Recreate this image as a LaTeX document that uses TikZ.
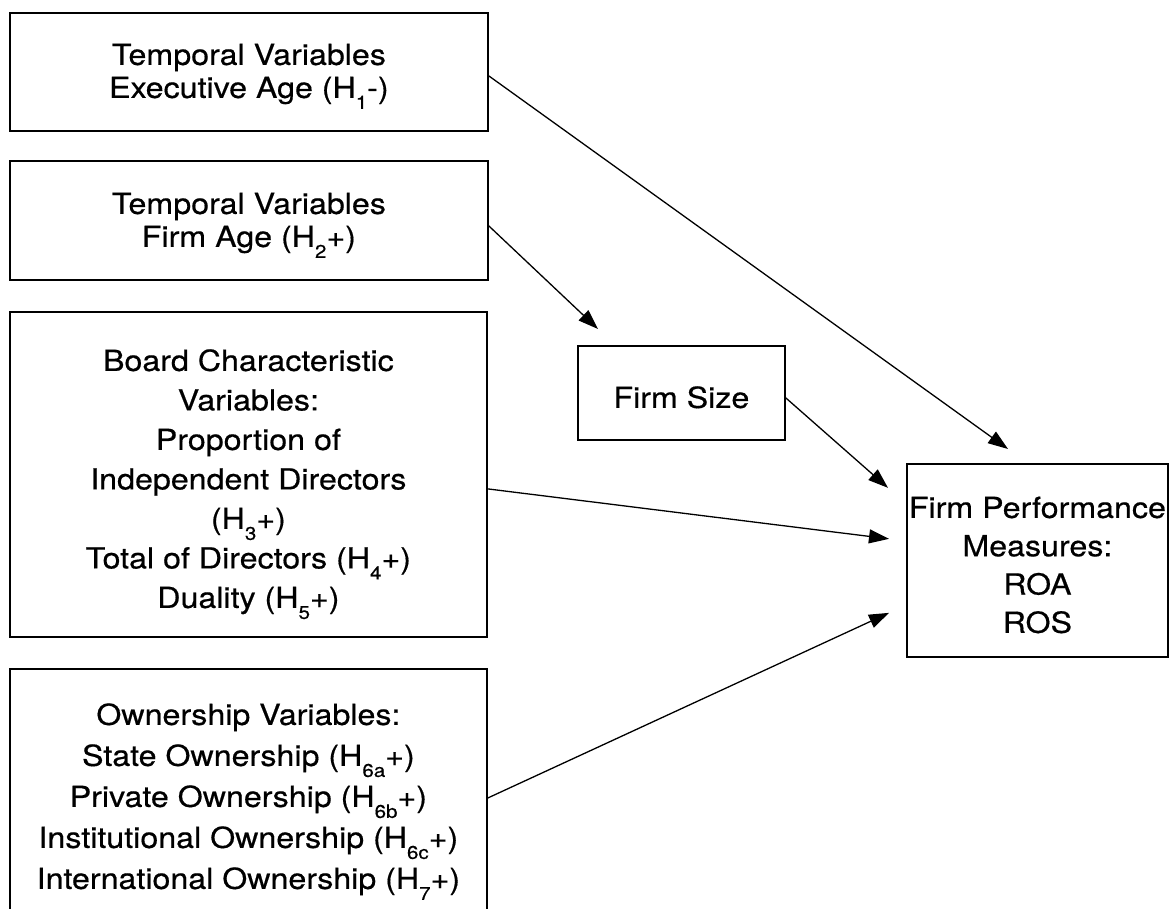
\documentclass[tikz,border=0pt]{standalone}
\usepackage{fontspec}
\setmainfont{TeX Gyre Heros}[FakeStretch=1.11,FakeBold=0.5]
\usetikzlibrary{arrows.meta}
\newcommand{\hsb}[1]{\raisebox{-11pt}{\fontsize{18.5}{18.5}\selectfont #1}}
\newcommand{\toph}[1]{\rule{0pt}{#1}}
\newcommand{\both}[1]{\rule[-#1]{0pt}{#1}}
\begin{document}
\begin{tikzpicture}[x=1pt,y=-1pt,
  box/.style={draw, line width=1.8pt, inner sep=0pt, align=center, anchor=north west},
  fnt/.style={font=\fontsize{29}{#1}\selectfont},
  arr/.style={-{Triangle[length=20pt,width=14pt]}, line width=1.3pt}]
\useasboundingbox (0,0) rectangle (1175,909);
\clip (0,0) rectangle (1175,909);
\node[box, fnt=33, minimum width=478pt] (b1) at (9,12)
  {\toph{52pt}Temporal Variables\\Executive Age (H\hsb{1}-)\both{33pt}};
\node[box, fnt=33, minimum width=478pt] (b2) at (9,160)
  {\toph{53pt}Temporal Variables\\Firm Age (H\hsb{2}+)\both{33pt}};
\node[box, fnt=39.5, minimum width=477pt] (b3) at (9,311)
  {\toph{59pt}Board Characteristic\\Variables:\\Proportion of\\Independent Directors\\(H\hsb{3}+)\\Total of Directors (H\hsb{4}+)\\Duality (H\hsb{5}+)\both{29pt}};
\node[box, fnt=41, minimum width=477pt] (b4) at (9,668)
  {\toph{56pt}Ownership Variables:\\State Ownership (H\hsb{6a}+)\\Private Ownership (H\hsb{6b}+)\\Institutional Ownership (H\hsb{6c}+)\\International Ownership (H\hsb{7}+)\both{42pt}};
\node[box, fnt=33, minimum width=207pt] (fs) at (577,345)
  {\toph{62pt}Firm Size\both{32pt}};
\node[box, fnt=38.3, minimum width=261pt] (fp) at (906,463)
  {\toph{54pt}Firm Performance\\Measures:\\ROA\\ROS\both{24pt}};
\draw[arr] ([yshift=-4pt]b1.east) -- ([xshift=102pt,yshift=14pt]fp.north west);
\draw[arr] ([yshift=-5.5pt]b2.east) -- ([xshift=21pt,yshift=16pt]fs.north west);
\draw[arr] ([yshift=-5pt]fs.east) -- ([xshift=-18pt,yshift=72.5pt]fp.west);
\draw[arr] ([yshift=-14.5pt]b3.east) -- ([xshift=-17pt,yshift=21.5pt]fp.west);
\draw[arr] ([yshift=-130pt]b4.north east) -- ([xshift=-17pt,yshift=-52.5pt]fp.west);
\end{tikzpicture}
\end{document}
